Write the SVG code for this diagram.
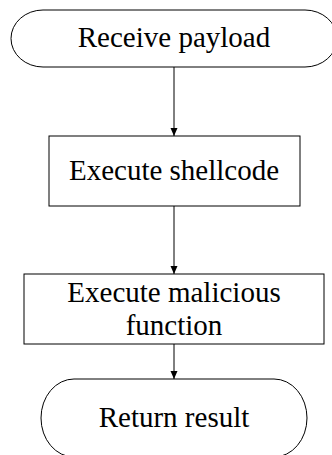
<svg xmlns="http://www.w3.org/2000/svg" width="332" height="455" viewBox="0 0 332 455">
  <style>
    .shape { fill: #fff; stroke: #000; stroke-width: 1; }
    .label { font-family: "Liberation Serif", "Times New Roman", serif; font-size: 29px; fill: #000; text-anchor: middle; }
    .edge { stroke: #000; stroke-width: 1; fill: none; marker-end: url(#arrow); }
  </style>
  <defs>
    <marker id="arrow" viewBox="0 0 8 12" refX="8" refY="6" markerWidth="8" markerHeight="12" markerUnits="userSpaceOnUse" orient="auto">
      <path d="M0,2.5 L8,6 L0,9.5 Z" fill="#000"/>
    </marker>
  </defs>

  <rect width="332" height="455" fill="#fff"/>

  <g id="connectors">
    <line class="edge" x1="174" y1="67" x2="174" y2="136"/>
    <line class="edge" x1="174" y1="206" x2="174" y2="274"/>
    <line class="edge" x1="174" y1="344" x2="174" y2="379"/>
  </g>

  <g id="receive-payload">
    <rect class="shape" x="11" y="10" width="326" height="57" rx="32" ry="28.5"/>
    <text class="label" x="174" y="47">Receive payload</text>
  </g>

  <g id="execute-shellcode">
    <rect class="shape" x="49" y="136" width="251" height="70"/>
    <text class="label" x="174" y="180">Execute shellcode</text>
  </g>

  <g id="execute-malicious-function">
    <rect class="shape" x="24" y="274" width="300" height="70"/>
    <text class="label" x="174" y="302">Execute malicious</text>
    <text class="label" x="174" y="335">function</text>
  </g>

  <g id="return-result">
    <rect class="shape" x="41" y="379" width="266" height="78" rx="33" ry="39"/>
    <text class="label" x="174" y="427">Return result</text>
  </g>
</svg>
